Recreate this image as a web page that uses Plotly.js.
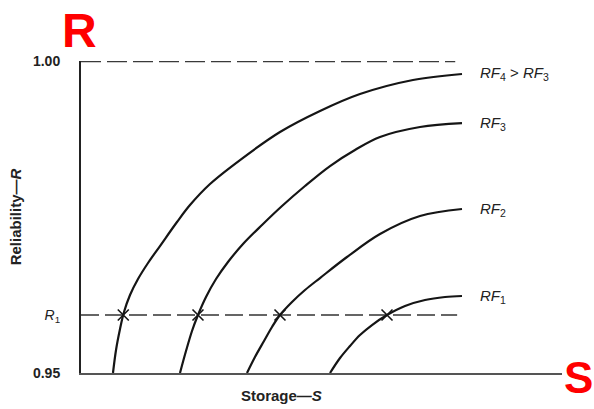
<!DOCTYPE html>
<html>
<head>
<meta charset="utf-8">
<script src="https://cdn.plot.ly/plotly-3.0.1.min.js"></script>
<style>html,body{margin:0;padding:0;background:#fff;}#chart{width:594px;height:409px;}</style>
</head>
<body>
<div id="chart"></div>
<script>
// Storage (arbitrary units 0-100) and reliability values
const rf4X = [6.65, 7.28, 8.11, 8.94, 10.19, 11.85, 13.93, 16.42, 19.96, 22.66, 26.82, 33.06, 41.37, 49.69, 58.00, 69.02, 79.21];
const rf4Y = [0.9500, 0.95369, 0.95705, 0.95977, 0.9625, 0.96506, 0.96763, 0.97035, 0.9742, 0.97692, 0.98029, 0.98413, 0.98862, 0.99199, 0.99471, 0.99696, 0.99792];
const rf3X = [20.58, 21.83, 23.08, 24.32, 25.99, 28.07, 30.56, 33.68, 37.63, 41.79, 46.57, 51.77, 56.96, 62.16, 70.48, 79.21];
const rf3Y = [0.9500, 0.95352, 0.95673, 0.95929, 0.96218, 0.96506, 0.96779, 0.97067, 0.97372, 0.97676, 0.97997, 0.98317, 0.98574, 0.98782, 0.98942, 0.99006];
const rf2X = [34.51, 36.17, 38.05, 39.71, 41.37, 43.87, 46.57, 49.69, 55.30, 62.16, 70.48, 79.21];
const rf2Y = [0.9500, 0.95256, 0.95513, 0.95737, 0.95929, 0.96138, 0.9633, 0.96522, 0.96859, 0.97228, 0.97516, 0.97628];
const rf1X = [51.77, 53.85, 55.93, 58.00, 60.50, 63.62, 67.36, 71.52, 75.68, 79.21];
const rf1Y = [0.9500, 0.9524, 0.95433, 0.95609, 0.95769, 0.95929, 0.96074, 0.9617, 0.96218, 0.96234];
const curveLabels = ['<i>RF</i><sub>4</sub> > <i>RF</i><sub>3</sub>', '<i>RF</i><sub>3</sub>', '<i>RF</i><sub>2</sub>', '<i>RF</i><sub>1</sub>'];
const R1 = 0.95929;
const crossX = [8.79, 24.32, 41.37, 63.62];
const refLineEndX = 78.2;
const topLineEndX = 77.8;
const yTickVals = [0.95, R1, 1.00];
const yTickText = ['<b>0.95</b>', '<i>R</i><sub>1</sub>', '<b>1.00</b>'];

const ink = '#151515';
const font = 'Liberation Sans, Arial, sans-serif';
const curves = [[rf4X, rf4Y], [rf3X, rf3Y], [rf2X, rf2Y], [rf1X, rf1Y]];
const traces = [];
// dashed reference lines
traces.push({x: [0, topLineEndX], y: [1.00, 1.00], mode: 'lines', line: {color: '#3a3a3a', width: 2.4, dash: '20px,6px'}, hoverinfo: 'skip'});
traces.push({x: [0, refLineEndX], y: [R1, R1], mode: 'lines', line: {color: '#333', width: 1.6, dash: '18px,6px'}, hoverinfo: 'skip'});
curves.forEach(function(c){
  traces.push({x: c[0], y: c[1], mode: 'lines', line: {color: ink, width: 2.2, shape: 'spline', smoothing: 1}, hoverinfo: 'skip'});
});
traces.push({x: crossX, y: crossX.map(function(){return R1;}), mode: 'markers',
  marker: {symbol: 'x-thin', size: 11, color: ink, line: {width: 1.6, color: ink}}, hoverinfo: 'skip'});

const annotations = curves.map(function(c, i){
  return {x: c[0][c[0].length-1], y: c[1][c[1].length-1], xref: 'x', yref: 'y', text: curveLabels[i],
    showarrow: false, xanchor: 'left', xshift: 16, yshift: 0,
    font: {family: font, size: 15, color: '#222'}};
});
annotations.push({xref: 'paper', yref: 'paper', x: -0.004, y: 1.0, yanchor: 'bottom', xanchor: 'center', yshift: 2,
  text: '<b>R</b>', showarrow: false, font: {family: font, size: 48, color: '#ff0000'}});
annotations.push({xref: 'paper', yref: 'y', x: 1.0, y: 0.95, xanchor: 'left', yanchor: 'middle', xshift: 0, yshift: -4,
  text: '<b>S</b>', showarrow: false, font: {family: font, size: 44, color: '#ff0000'}});
annotations.push({xref: 'paper', yref: 'paper', x: 0.416, y: 0, yanchor: 'top', xanchor: 'center', yshift: -12,
  text: 'Storage—<i>S</i>', showarrow: false, font: {family: font, size: 15, color: '#222', weight: 'bold'}});

const layout = {
  width: 594, height: 409,
  margin: {l: 81, r: 32, t: 61, b: 36, pad: 0},
  paper_bgcolor: '#fff', plot_bgcolor: '#fff',
  showlegend: false,
  xaxis: {range: [0, 100], showgrid: false, zeroline: false, showticklabels: false, ticks: '',
    showline: true, linecolor: '#555', linewidth: 1.5},
  yaxis: {range: [0.95, 1.00], showgrid: false, zeroline: false, ticks: '',
    tickvals: yTickVals, ticktext: yTickText, ticklabelstandoff: 16,
    tickfont: {family: font, size: 14, color: '#222'},
    showline: true, linecolor: '#222', linewidth: 2,
    title: {text: 'Reliability—<i>R</i>', standoff: 8, font: {family: font, size: 15, color: '#222', weight: 'bold'}}},
  annotations: annotations
};
Plotly.newPlot('chart', traces, layout, {staticPlot: true, displayModeBar: false});
</script>
</body>
</html>
